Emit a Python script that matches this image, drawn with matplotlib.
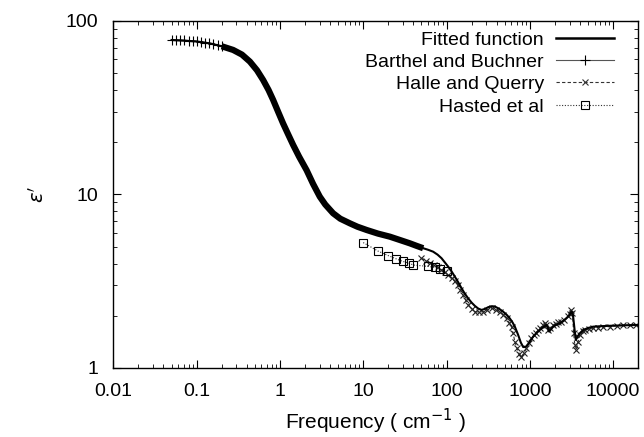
import matplotlib
matplotlib.use("Agg")
import matplotlib.pyplot as plt
from matplotlib.ticker import LogLocator, NullFormatter, FixedLocator, FixedFormatter
from matplotlib.lines import Line2D

plt.rcParams['font.family'] = ['Liberation Sans', 'DejaVu Sans']

# Fitted function (frequency cm^-1, epsilon')
fit_x = [0.05, 0.1, 0.144, 0.2, 0.274, 0.35, 0.436, 0.53, 0.628, 0.73, 0.828, 0.95, 1.09, 1.25,
         1.44, 1.7, 2.09, 2.5, 3.01, 3.5, 4.35, 5.3, 6.9, 8.5, 11.0, 15.0, 20.9, 28.0, 36.2, 44.0,
         52.4, 60.0, 69.0, 78.0, 87.1, 95.0, 104.5, 115.0, 125.8, 138.0, 151.4, 165.0, 181.6,
         200.0, 218.6, 240.0, 263, 290, 316, 350, 380, 430, 478, 525, 575, 620, 661, 724, 780,
         832, 890, 955, 1020, 1096, 1200, 1318, 1450, 1586, 1650, 1706, 1800, 1905, 2100, 2291,
         2600, 2884, 3050, 3170, 3250, 3311, 3450, 3565, 3750, 3981, 4365, 5000, 5754, 7000,
         9120, 13000, 19800]
fit_y = [77.7, 76.2, 74.3, 71.5, 68.1, 64.0, 58.3, 52.0, 45.7, 40.0, 35.1, 30.0, 25.7, 22.3,
         19.3, 16.5, 13.8, 11.5, 9.71, 8.75, 7.79, 7.25, 6.82, 6.52, 6.24, 5.95, 5.71, 5.45, 5.23,
         5.05, 4.90, 4.80, 4.68, 4.50, 4.29, 4.07, 3.84, 3.60, 3.36, 3.12, 2.88, 2.69, 2.52,
         2.38, 2.28, 2.20, 2.16, 2.19, 2.24, 2.27, 2.26, 2.19, 2.11, 2.03, 1.93, 1.83, 1.73, 1.55,
         1.40, 1.32, 1.32, 1.375, 1.44, 1.515, 1.59, 1.655, 1.72, 1.77, 1.70, 1.62, 1.67, 1.73,
         1.78, 1.81, 1.89, 1.98, 2.05, 2.11, 2.08, 1.98, 1.65, 1.45, 1.52, 1.585, 1.655, 1.70,
         1.73, 1.74, 1.75, 1.76, 1.77]

# Barthel and Buchner
bb_x = [0.05, 0.056, 0.063, 0.071, 0.08, 0.09, 0.1, 0.112, 0.126, 0.141, 0.158, 0.178, 0.2,
        0.274, 0.35, 0.436, 0.53, 0.628, 0.73, 0.828, 0.95, 1.09, 1.25, 1.44, 1.7, 2.09, 2.5,
        3.01, 3.5, 4.35, 5.3, 6.9, 8.5, 11.0, 15.0, 20.9, 28.0, 36.2, 44.0, 52.4]
bb_y = [77.8, 77.7, 77.6, 77.4, 77.1, 76.7, 76.2, 75.7, 75.1, 74.4, 73.6, 72.6, 71.5,
        68.1, 64.0, 58.3, 52.0, 45.7, 40.0, 35.1, 30.0, 25.7, 22.3, 19.3, 16.5, 13.8, 11.5,
        9.71, 8.75, 7.79, 7.25, 6.82, 6.52, 6.24, 5.95, 5.71, 5.45, 5.23, 5.05, 4.90]

# Halle and Querry
hq_x = [50, 56, 63, 71, 79, 87, 95, 104, 115, 125, 136, 147, 158, 170, 182, 200, 219, 245,
        275, 310, 347, 390, 437, 480, 525, 565, 603, 630, 661, 700, 750, 794, 850, 912, 980,
        1047, 1120, 1190, 1259, 1330, 1420, 1514, 1580, 1660, 1750, 1905, 2050, 2200, 2399,
        2600, 2884, 3000, 3105, 3250, 3350, 3467, 3631, 3800, 3981, 4300, 4571, 5200, 5754,
        6600, 7500, 9120, 11000, 13000, 16000, 19000]
hq_y = [4.29, 4.15, 4.01, 3.90, 3.80, 3.68, 3.56, 3.44, 3.28, 3.16, 3.00, 2.82, 2.63, 2.46,
        2.31, 2.20, 2.11, 2.10, 2.11, 2.17, 2.21, 2.17, 2.11, 2.03, 1.93, 1.82, 1.73, 1.58,
        1.42, 1.30, 1.20, 1.16, 1.22, 1.30, 1.40, 1.48, 1.55, 1.60, 1.655, 1.70, 1.76, 1.81,
        1.78, 1.655, 1.70, 1.77, 1.80, 1.83, 1.85, 1.90, 1.98, 2.05, 2.16, 2.07, 1.60, 1.36,
        1.27, 1.42, 1.55, 1.63, 1.655, 1.68, 1.69, 1.71, 1.72, 1.73, 1.75, 1.76, 1.76, 1.77]

# Hasted et al
ha_x = [10, 15, 20, 25, 30, 35, 40, 60, 72, 83, 100]
ha_y = [5.28, 4.72, 4.44, 4.25, 4.11, 4.03, 3.92, 3.85, 3.80, 3.71, 3.62]

labels = ["Fitted function", "Barthel and Buchner", "Halle and Querry", "Hasted et al"]
xticks = [0.01, 0.1, 1, 10, 100, 1000, 10000]
xtick_labels = ["0.01", "0.1", "1", "10", "100", "1000", "10000"]
yticks = [1, 10, 100]
ytick_labels = ["1", "10", "100"]

fig = plt.figure(figsize=(6.44, 4.37), dpi=100)
ax = fig.add_axes([0.176, 0.158, 0.815, 0.794])

ax.plot(fit_x, fit_y, color='black', lw=1.5, zorder=3)
# dense data band
ax.plot(bb_x[12:], bb_y[12:], color='black', lw=4.5, solid_capstyle='butt',
        solid_joinstyle='round', zorder=4)
ax.plot(bb_x, bb_y, color='black', lw=0.8, marker='+', ms=7, mew=0.8,
        markevery=list(range(13)), zorder=4)
ax.plot(hq_x, hq_y, color='#333333', lw=0.8, ls=(0, (3, 2)), marker='x', ms=4.5, mew=0.8,
        mec='#222222', zorder=2)
ax.plot(ha_x, ha_y, color='#333333', lw=0.8, ls=(0, (1, 1.5)), marker='s', ms=6, mew=0.8,
        mfc='none', mec='black', zorder=2)

ax.set_xscale('log')
ax.set_yscale('log')
ax.set_xlim(0.01, 20000)
ax.set_ylim(1, 100)

ax.xaxis.set_major_locator(FixedLocator(xticks))
ax.xaxis.set_major_formatter(FixedFormatter(xtick_labels))
ax.yaxis.set_major_locator(FixedLocator(yticks))
ax.yaxis.set_major_formatter(FixedFormatter(ytick_labels))
ax.xaxis.set_minor_locator(LogLocator(base=10, subs=range(2, 10), numticks=20))
ax.yaxis.set_minor_locator(LogLocator(base=10, subs=range(2, 10), numticks=20))
ax.xaxis.set_minor_formatter(NullFormatter())
ax.yaxis.set_minor_formatter(NullFormatter())

ax.tick_params(which='both', direction='in', top=True, right=True, labelsize=14)
ax.tick_params(which='major', length=6, width=0.8, pad=11)
ax.tick_params(which='minor', length=3, width=0.6)
for s in ax.spines.values():
    s.set_linewidth(1.0)

ax.set_xlabel("Frequency ( cm$^{-1}$ )", fontsize=15, labelpad=5)
ax.set_ylabel(r"$\epsilon'$", fontsize=14, labelpad=13)

handles = [
    Line2D([], [], color='black', lw=1.8),
    Line2D([], [], color='#555555', lw=0.8, marker='+', ms=7, mew=0.8, mec='black'),
    Line2D([], [], color='#333333', lw=0.8, ls=(0, (3, 2)), marker='x', ms=5, mew=0.8),
    Line2D([], [], color='#333333', lw=0.8, ls=(0, (1, 1.5)), marker='s', ms=6, mew=0.8,
           mfc='none', mec='black'),
]
ax.legend(handles, labels, loc='upper right', frameon=False, markerfirst=False,
          fontsize=14, handlelength=3.0, handletextpad=0.6, labelspacing=0.24,
          borderaxespad=0.3, bbox_to_anchor=(0.98, 1.01))

fig.savefig("out.png", dpi=100)
